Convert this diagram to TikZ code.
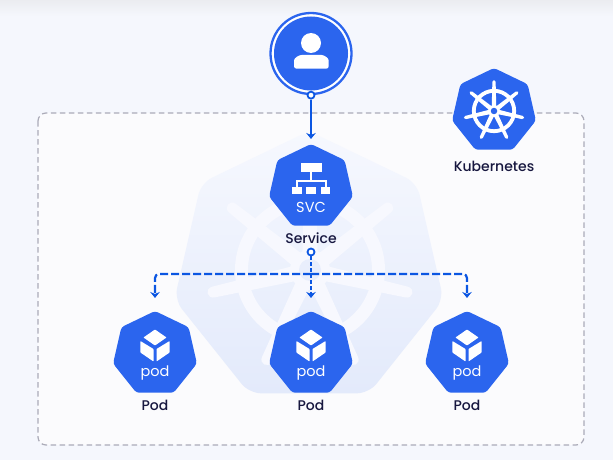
\documentclass[tikz,border=0pt]{standalone}
\usepackage{fontspec}
\setmainfont{Poppins}
\newfontfamily\medfont{Poppins Medium}
\usetikzlibrary{arrows.meta,shapes.geometric,shadings}
\definecolor{hepblue}{HTML}{2B65EE}
\definecolor{linkblue}{HTML}{0B56E2}
\definecolor{pagebg}{HTML}{F5F7FD}
\definecolor{innerbg}{HTML}{FBFBFD}
\definecolor{bandgray}{HTML}{EBECF0}
\definecolor{framegray}{HTML}{ABABB8}
\definecolor{labelink}{HTML}{17173F}
\definecolor{wheelfg}{HTML}{F7F8FE}
\definecolor{wheelhub}{HTML}{E9EEFC}
\definecolor{ghostlight}{HTML}{F6F8FE}
\definecolor{ghostdark}{HTML}{E3EAFB}
\tikzset{
	hepta/.style={regular polygon, regular polygon sides=7, minimum size=86pt, inner sep=0pt, outer sep=0pt, fill=hepblue, rounded corners=3pt},
	iconlabel/.style={text=white, font=\fontsize{14.5}{16}\selectfont},
	caption/.style={text=labelink, font=\medfont\fontsize{14}{16}\selectfont},
	linkdot/.style={circle, draw=linkblue, fill=white, line width=1.8pt, minimum size=7pt, inner sep=0pt},
	flow/.style={linkblue, line width=2.2pt, -{Stealth[length=6pt,width=9.5pt]}},
	dashflow/.style={flow, dash pattern=on 8pt off 3pt},
	shortflow/.style={flow, dash pattern=on 4pt off 2pt},
	pics/helm/.style 2 args={code={
		\fill[#1, even odd rule] (0,0) circle[radius=75] (0,0) circle[radius=62];
		\foreach \k in {0,...,6}{
			\fill[#1, rotate=180+\k*360/7] (-8,0) -- (-5.5,99) .. controls (-5.5,107) and (5.5,107) .. (5.5,99) -- (8,0) -- cycle;
		}
		\fill[#1] (0,0) circle[radius=20];
		\fill[#2] (0,0) circle[radius=11];
	}},
	pics/cube/.style={code={
		\fill[white, rounded corners=0.6pt] (0,-22.5) -- (11.5,-14.5) -- (0,-6.5) -- (-11.5,-14.5) -- cycle;
		\fill[white, rounded corners=0.6pt] (-14.6,-11) -- (-1.5,-3) -- (-1.5,9.5) -- (-14.6,0.5) -- cycle;
		\fill[white, rounded corners=0.6pt] (14.6,-11) -- (1.5,-3) -- (1.5,9.5) -- (14.6,0.5) -- cycle;
	}}
}
\begin{document}
\begin{tikzpicture}[x=1pt, y=-1pt]
	\useasboundingbox (0,0) rectangle (613,460);
	%background
	\fill[pagebg] (0,0) rectangle (613,460);
	\shade[top color=bandgray, bottom color=pagebg] (0,0) rectangle (613,16);
	\draw[framegray, fill=innerbg, line width=1.2pt, dash pattern=on 5.5pt off 3.5pt, rounded corners=8pt] (38,113) rectangle (584,445);

	%faded logo behind the service
	\node[regular polygon, regular polygon sides=7, minimum size=276pt, inner sep=0pt, rounded corners=12pt, shading angle=20, top color=ghostlight, bottom color=ghostdark] (ghost) at (309,269) {};
	\pic at (310,270) {helm={wheelfg}{wheelhub}};

	%user
	\node[circle, draw=hepblue, fill=white, line width=2.3pt, minimum size=81pt, inner sep=0pt] (user) at (311,53.5) {};
	\fill[hepblue] (user.center) circle[radius=37];
	\fill[white] (311,43) circle[radius=10];
	\fill[white, rounded corners=2.5pt] (294,68.7) -- (328.7,68.7) -- (328.7,63) .. controls (328.7,58) and (324,55) .. (319,55) -- (304,55) .. controls (299,55) and (294,58) .. (294,63) -- cycle;

	%service
	\node[hepta] (svc) at (311,187) {};
	\fill[white] (301,163.3) rectangle (321.7,172.3);
	\fill[white] (310.2,172) rectangle (312.4,181);
	\draw[white, line width=2pt] (297,187) |- (325.5,180.5) -- (325.5,187);
	\foreach \x in {292,306.4,320.8}{
		\fill[white] (\x,186.5) rectangle (\x+9.6,193.8);
	}
	\node[iconlabel] (svctext) at (311,207.5) {SVC};
	\node[caption] (svclabel) at (311,238) {Service};

	%pods
	\foreach \n/\x in {podA/155,podB/311,podC/467}{
		\node[hepta] (\n) at (\x,354) {};
		\pic at (\x,352) {cube};
		\node[iconlabel] (\n text) at (\x,373) {pod};
		\node[caption] (\n label) at (\x,405.5) {Pod};
	}

	%kubernetes
	\node[hepta] (kube) at (494,111) {};
	\pic[scale=0.295] at (494,111) {helm={white}{hepblue}};
	\node[caption] (kubelabel) at (494,166.5) {Kubernetes};

	%links
	\node[linkdot] (userdot) at (user.south) {};
	\node[linkdot] (svcdot) at (311,252) {};
	\draw[flow, shorten >=5pt] (userdot) -- (svc.north);
	\coordinate (bus) at (311,274);
	\draw[dashflow, rounded corners=4pt] (bus) -| ([yshift=13pt]podA.north);
	\draw[dashflow, rounded corners=4pt] (bus) -| ([yshift=13pt]podC.north);
	\draw[shortflow, shorten >=13pt] (svcdot) -- (podB.north);
\end{tikzpicture}
\end{document}
